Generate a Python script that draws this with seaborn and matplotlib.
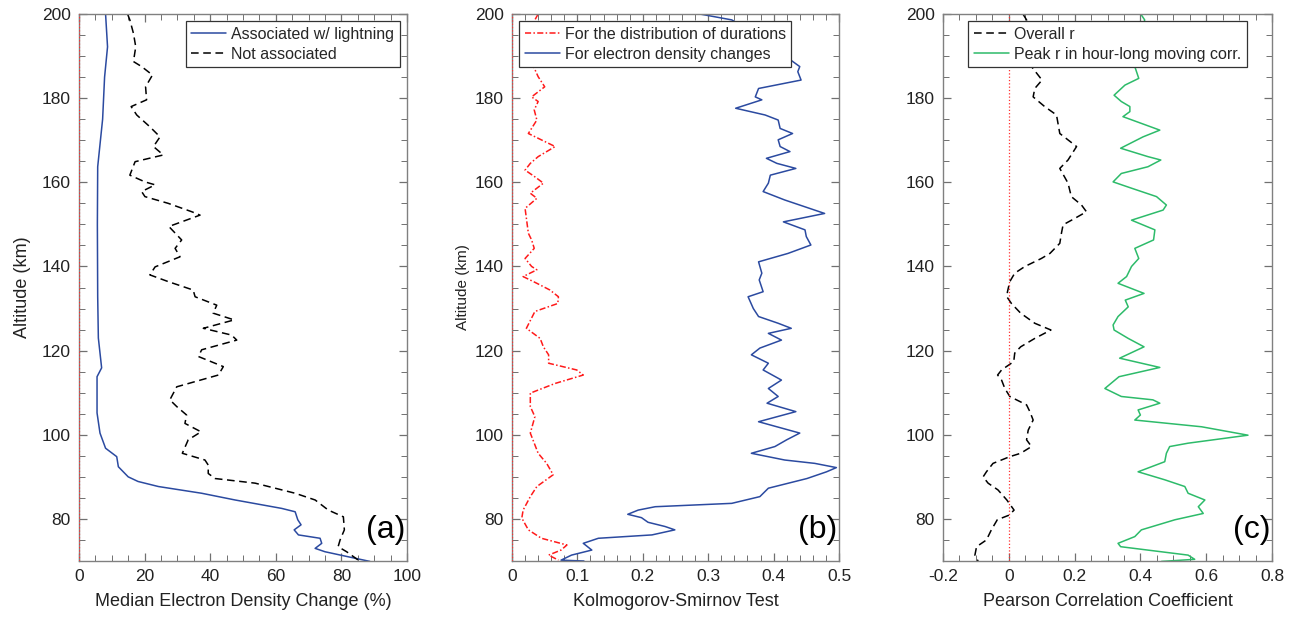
import numpy as np
import pandas as pd
import matplotlib
matplotlib.use("Agg")
import matplotlib.pyplot as plt
from matplotlib.ticker import MultipleLocator, FuncFormatter
import seaborn as sns

# ---------------- data ----------------
# Panel (a): Median electron density change (%)
alt_a_assoc = [200, 192.2, 185, 175, 163.7, 150, 132.8, 123, 115.9, 113.8, 105.2, 100.4, 96.8, 94.8,
               92.4, 90.0, 88.9, 87.7, 86.1, 84.5, 82.5, 81.7, 79.8, 78.6, 77.4, 76.2, 75.4, 74.2,
               73.0, 72.2, 71.0, 69.9]
val_a_assoc = [8.1, 8.7, 7.8, 7.2, 5.7, 5.6, 5.7, 5.9, 6.9, 5.5, 5.5, 6.4, 8.1, 11.5,
               12.0, 15.0, 18.0, 24.2, 37.4, 47.6, 61.8, 65.9, 66.7, 67.7, 65.6, 66.9, 73.5, 74.0,
               72.0, 75.0, 82.1, 88.7]

alt_a_not = [200, 198.6, 195.4, 192.2, 188.7, 187.5, 185.5, 182.7, 179.6, 178, 176, 173.2, 170.8, 168.5,
             166.5, 164.9, 161.7, 160.1, 159.4, 157.8, 156.6, 155, 153, 152.2, 149.5, 146.3, 144.3,
             142.3, 139.9, 138, 136.4, 134.4, 132.8, 130.8, 128.9, 127.3, 125.3, 123.7, 122.5, 120.2,
             118.6, 116.2, 114.2, 111.4, 108.3, 106.7, 104.7, 102.7, 100.7, 98.8, 95.6, 94.0, 92.8,
             90.8, 89.6, 88.5, 86.1, 84.5, 82.1, 80.5, 77.4, 75.0, 73.4, 72.2, 69.9]
val_a_not = [14.8, 15.5, 16.6, 17.3, 16.6, 19.1, 22.4, 20.3, 20.6, 15.9, 17.6, 21.6, 24.7, 22.7,
             25.7, 17.1, 15.5, 20.1, 23.2, 19.1, 20.1, 27.2, 34.4, 36.9, 27.4, 31.3, 29.3,
             30.8, 23.2, 21.6, 27.2, 34.8, 35.4, 42.0, 40.9, 47.3, 37.9, 46.5, 48.1, 37.4,
             36.4, 44.0, 42.5, 29.8, 27.7, 29.8, 32.8, 32.3, 37.2, 33.3, 31.5, 38.4, 39.4,
             39.4, 41.5, 53.7, 65.9, 72.0, 76.0, 80.6, 80.9, 79.6, 79.0, 81.6, 85.7]

# Panel (b): Kolmogorov-Smirnov test
alt_b_dur = [200, 198.6, 193.8, 187.5, 185.1, 182.7, 180.3, 179.2, 177.2, 174.8, 171.6, 169.7, 168.5,
             166.1, 164.5, 162.9, 161.3, 159.8, 157.4, 156.2, 153.8, 147.9, 146.3, 144.3, 141.9,
             140.0, 139.2, 137.6, 136.0, 134.4, 132.8, 131.2, 129.3, 125.3, 122.9, 120.9, 119.0,
             117.0, 115.4, 114.2, 112.2, 109.9, 106.7, 104.3, 100.4, 95.6, 93.2, 90.5, 87.7, 85.3,
             82.1, 80.2, 77.4, 75.4, 73.8, 72.6, 71.4, 70.2]
val_b_dur = [0.040, 0.035, 0.033, 0.033, 0.040, 0.050, 0.030, 0.040, 0.034, 0.038, 0.025, 0.050, 0.066,
             0.040, 0.028, 0.020, 0.035, 0.048, 0.028, 0.038, 0.020, 0.025, 0.030, 0.034, 0.020,
             0.030, 0.038, 0.017, 0.038, 0.058, 0.071, 0.070, 0.035, 0.022, 0.043, 0.048, 0.056,
             0.056, 0.099, 0.109, 0.066, 0.028, 0.028, 0.035, 0.028, 0.040, 0.053, 0.063, 0.038, 0.028,
             0.017, 0.015, 0.025, 0.045, 0.084, 0.075, 0.056, 0.071]

alt_b_ne = [200, 198.6, 196.5, 187.5, 186.3, 184.3, 182.3, 180.3, 179.6, 177.6, 176, 174.8, 172.8,
            171.6, 170.1, 168.5, 167.3, 165.7, 164.5, 163.3, 161.7, 159.8, 157.8, 155.8, 152.6,
            150.6, 148.7, 147.1, 145.1, 143.1, 141.1, 138.4, 136.8, 134.0, 132.8, 130.0, 128.1,
            126.5, 125.3, 124.1, 122.5, 120.6, 119.0, 117.0, 115.4, 113.0, 111.0, 109.1, 107.5,
            105.5, 103.1, 100.4, 98.8, 97.2, 95.6, 94.0, 93.2, 92.2, 91.2, 89.6, 87.3, 85.3, 83.7,
            82.9, 82.1, 81.1, 80.3, 79.2, 78.2, 77.4, 76.2, 75.4, 74.2, 72.6, 71.4, 70.2, 70.0]
val_b_ne = [0.287, 0.336, 0.36, 0.440, 0.437, 0.442, 0.377, 0.372, 0.382, 0.342, 0.387, 0.407, 0.410,
            0.429, 0.407, 0.410, 0.425, 0.389, 0.405, 0.434, 0.395, 0.392, 0.384, 0.417, 0.478,
            0.415, 0.448, 0.450, 0.457, 0.422, 0.377, 0.382, 0.378, 0.384, 0.361, 0.369, 0.377,
            0.407, 0.427, 0.392, 0.412, 0.379, 0.366, 0.392, 0.384, 0.412, 0.392, 0.407, 0.390,
            0.434, 0.377, 0.440, 0.420, 0.402, 0.366, 0.417, 0.463, 0.496, 0.481, 0.451, 0.392,
            0.379, 0.336, 0.219, 0.193, 0.177, 0.198, 0.208, 0.234, 0.249, 0.214, 0.132, 0.109,
            0.122, 0.091, 0.075, 0.110]

# Panel (c): Pearson correlation coefficient
alt_c_r = [200, 198.6, 194, 190, 187.5, 184.3, 182.3, 180.3, 178, 176, 171.6, 168.5, 165.3, 163.3,
           159.8, 156.6, 154.6, 153, 151.4, 149.9, 147.9, 145.5, 143.1, 141.9, 140, 138.4, 136.4,
           134, 132.8, 131.2, 128.9, 126.5, 124.9, 122.9, 120.9, 119.4, 117.4, 115.4, 114.2, 113,
           111, 109.1, 107.1, 105.5, 103.5, 101.1, 98.8, 97.2, 95.6, 94.8, 93.2, 91.2, 90, 88.5,
           86.9, 84.5, 82.1, 80.9, 79.8, 77.4, 75, 73.4, 71.4, 69.9]
val_c_r = [0.043, 0.054, 0.060, 0.062, 0.069, 0.101, 0.079, 0.074, 0.109, 0.145, 0.155, 0.206, 0.180,
           0.155, 0.180, 0.190, 0.221, 0.236, 0.200, 0.165, 0.160, 0.155, 0.125, 0.099, 0.049,
           0.018, 0.003, -0.004, -0.006, 0.008, 0.036, 0.079, 0.128, 0.079, 0.036, 0.018, 0.015,
           -0.022, -0.034, -0.022, -0.012, 0.003, 0.054, 0.064, 0.074, 0.059, 0.054, 0.069, 0.036,
           0.003, -0.048, -0.068, -0.078, -0.063, -0.033, -0.006, 0.016, 0.001, -0.035, -0.053,
           -0.068, -0.098, -0.103, -0.093]

alt_c_peak = [200, 198.6, 194, 190, 187.5, 184.7, 183.1, 180.7, 179.2, 178, 176.8, 175.6, 174, 172.4,
              170.8, 168.1, 166.1, 165.3, 163.7, 162.1, 160.1, 158.6, 156.6, 154.6, 153.4, 151,
              148.7, 146.3, 144.3, 141.9, 140, 137.6, 136, 133.6, 132, 130.4, 128.1, 126.1, 124.9,
              122.9, 120.9, 118.2, 116, 113.8, 111, 109.1, 108.3, 107.5, 105.9, 104.7, 103.5,
              101.9, 99.9, 98, 97.2, 95.6, 93.6, 91.2, 89.3, 87.7, 86.1, 84.5, 82.9, 81.3, 79.8,
              77.4, 75.8, 74.2, 73.4, 71.4, 70.4, 69.9]
val_c_peak = [0.401, 0.413, 0.40, 0.39, 0.383, 0.395, 0.353, 0.320, 0.342, 0.368, 0.368, 0.347, 0.403,
              0.459, 0.408, 0.340, 0.423, 0.462, 0.423, 0.342, 0.317, 0.373, 0.449, 0.479, 0.469,
              0.373, 0.444, 0.440, 0.383, 0.395, 0.373, 0.358, 0.332, 0.411, 0.354, 0.363, 0.332,
              0.317, 0.320, 0.363, 0.411, 0.337, 0.459, 0.335, 0.292, 0.342, 0.438, 0.459, 0.393,
              0.400, 0.383, 0.586, 0.727, 0.545, 0.489, 0.479, 0.474, 0.393, 0.474, 0.535, 0.545,
              0.596, 0.576, 0.591, 0.505, 0.403, 0.383, 0.332, 0.340, 0.545, 0.565, 0.464]

# ---------------- style ----------------
sns.set_theme(style="white")
plt.rcParams["font.family"] = ["Liberation Sans", "DejaVu Sans"]
plt.rcParams["axes.edgecolor"] = "#808080"
plt.rcParams["xtick.direction"] = "in"
plt.rcParams["ytick.direction"] = "in"
plt.rcParams["xtick.minor.visible"] = True
plt.rcParams["ytick.minor.visible"] = True

fig = plt.figure(figsize=(12.94, 6.26), dpi=100)
W, H = 1294, 626
def add_ax(x0, x1, y0=14, y1=561):
    return fig.add_axes([x0 / W, 1 - y1 / H, (x1 - x0) / W, (y1 - y0) / H])

ax_a = add_ax(79, 407)
ax_b = add_ax(512, 839)
ax_c = add_ax(943, 1272)

blue = "#2b4aa0"
green = "#2dbb6a"

def draw(ax, x, y, color, ls, label, lw=1.1):
    df = pd.DataFrame({"x": x, "y": y})
    sns.lineplot(data=df, x="x", y="y", sort=False, estimator=None, ax=ax,
                 color=color, linestyle=ls, linewidth=lw, label=label)

draw(ax_a, val_a_assoc, alt_a_assoc, blue, "-", "Associated w/ lightning")
draw(ax_a, val_a_not, alt_a_not, "black", (0, (5, 3)), "Not associated")
draw(ax_b, val_b_dur, alt_b_dur, "#ff1a1a", (0, (4, 1.5, 1, 1.5)), "For the distribution of durations")
draw(ax_b, val_b_ne, alt_b_ne, blue, "-", "For electron density changes")
draw(ax_c, val_c_r, alt_c_r, "black", (0, (5, 3)), "Overall r")
draw(ax_c, val_c_peak, alt_c_peak, green, "-", "Peak r in hour-long moving corr.")

xlims = [(0, 100), (0, 0.5), (-0.2, 0.8)]
xmaj = [20, 0.1, 0.2]
xmin = [5, 0.02, 0.05]
xlabels = ["Median Electron Density Change (%)", "Kolmogorov-Smirnov Test", "Pearson Correlation Coefficient"]
panel = ["(a)", "(b)", "(c)"]
fmt = FuncFormatter(lambda v, p: "0" if abs(v) < 1e-9 else f"{v:g}")
for i, ax in enumerate([ax_a, ax_b, ax_c]):
    ax.axvline(0, color="#ff3030", linestyle=":", linewidth=0.9, zorder=3)
    ax.set_xlim(*xlims[i])
    ax.set_ylim(70, 200)
    ax.xaxis.set_major_locator(MultipleLocator(xmaj[i]))
    ax.xaxis.set_minor_locator(MultipleLocator(xmin[i]))
    ax.xaxis.set_major_formatter(fmt)
    ax.yaxis.set_major_locator(MultipleLocator(20))
    ax.yaxis.set_minor_locator(MultipleLocator(5))
    ax.tick_params(which="both", direction="in", top=True, right=True, bottom=True, left=True,
                   color="#707070", labelsize=12.5, labelcolor="#222222", pad=6)
    ax.tick_params(which="major", length=6, width=0.9)
    ax.tick_params(which="minor", length=4, width=0.7)
    for s in ax.spines.values():
        s.set_color("#808080")
        s.set_linewidth(1.0)
    ax.set_xlabel(xlabels[i], fontsize=13, color="#222222", labelpad=6)
    ax.set_ylabel("")
    ax.text(0.995, 0.03, panel[i], transform=ax.transAxes, ha="right", va="bottom",
            fontsize=23, color="black")

ax_a.set_ylabel("Altitude (km)", fontsize=13, color="#222222", labelpad=8)
ax_b.set_ylabel("Altitude (km)", fontsize=11, color="#222222", labelpad=3)

leg_kw = dict(frameon=True, fancybox=False, fontsize=11.5, borderpad=0.35, handlelength=2.2,
              handletextpad=0.3, labelspacing=0.3, borderaxespad=0.45)
la = ax_a.legend(loc="upper right", **leg_kw)
lb = ax_b.legend(loc="upper left", **leg_kw)
lc = ax_c.legend(loc="upper left", bbox_to_anchor=(0.055, 1.0), **leg_kw)
for lg in (la, lb, lc):
    lg.get_frame().set_edgecolor("#333333")
    lg.get_frame().set_linewidth(0.9)
    lg.get_frame().set_alpha(1)

fig.savefig("out.png", dpi=100)
